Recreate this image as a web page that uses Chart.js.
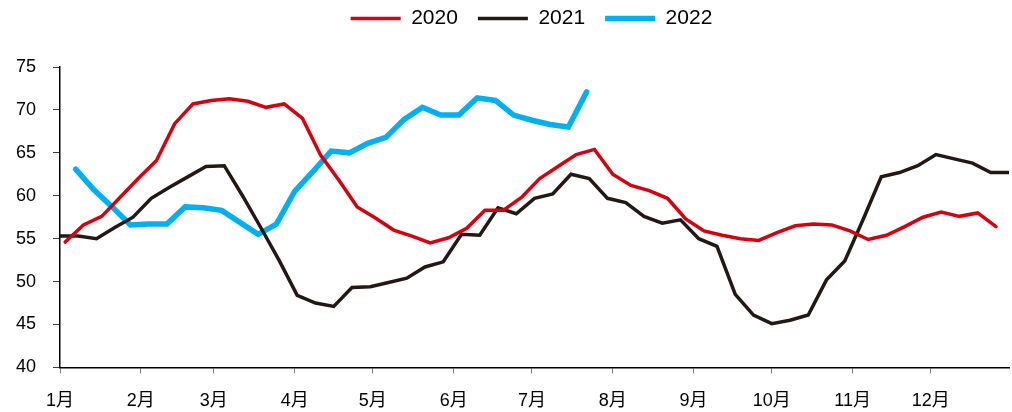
<!DOCTYPE html>
<html>
<head>
<meta charset="utf-8">
<script src="https://cdn.jsdelivr.net/npm/chart.js@4/dist/chart.umd.min.js"></script>
<style>
    body { margin: 0; background: #fff; }
    #wrap { width: 1012px; height: 412px; }
</style>
</head>
<body>
<div id="wrap"><canvas id="weeklyChart"></canvas></div>
<script>
// month labels and the day of year each month starts on
const monthLabels = ['1月', '2月', '3月', '4月', '5月', '6月', '7月', '8月', '9月', '10月', '11月', '12月'];
const monthStarts = [0, 31, 59, 90, 120, 151, 181, 212, 243, 273, 304, 334];

// weekly readings (Fridays), first reading day of year per series
const start2020 = 2;
const start2021 = 0;
const start2022 = 6;

const values2020 = [
    54.6, 56.6, 57.6, 59.8, 62.0, 64.1, 68.4, 70.7, 71.1, 71.3, 71.0, 70.3, 70.7,
    69.0, 64.7, 61.8, 58.7, 57.4, 56.0, 55.3, 54.5, 55.1, 56.2, 58.3, 58.3, 59.8,
    62.0, 63.4, 64.8, 65.4, 62.5, 61.2, 60.6, 59.7, 57.3, 55.9, 55.4, 55.0, 54.8,
    55.7, 56.5, 56.7, 56.6, 55.9, 54.9, 55.4, 56.4, 57.5, 58.1, 57.6, 58.0, 56.4
];
const values2021 = [
    55.3, 55.3, 55.0, 56.3, 57.5, 59.7, 61.0, 62.2, 63.4, 63.5, 60.0, 56.3, 52.5,
    48.4, 47.5, 47.1, 49.3, 49.4, 49.9, 50.4, 51.7, 52.3, 55.5, 55.4, 58.6, 57.9,
    59.7, 60.2, 62.5, 62.0, 59.7, 59.2, 57.6, 56.8, 57.2, 55.0, 54.1, 48.5, 46.1,
    45.1, 45.5, 46.1, 50.2, 52.4, 57.2, 62.2, 62.7, 63.5, 64.8, 64.3, 63.8, 62.7,
    62.7
];
const values2022 = [
    63.1, 60.7, 58.7, 56.6, 56.7, 56.7, 58.7, 58.6, 58.3, 56.9, 55.5, 56.7, 60.5,
    62.8, 65.2, 65.0, 66.1, 66.8, 68.9, 70.3, 69.4, 69.4, 71.4, 71.1, 69.4, 68.8,
    68.3, 68.0, 72.1
];

// y axis range
const yMin = 40;
const yMax = 75;
const yStep = 5;

// turn a weekly series into {x: day, y: value} points
function toPoints(values, startDay) {
    return values.map((v, i) => ({ x: startDay + i * 7, y: v }));
}

// nudge the legend so it sits over the plot like in the original
const legendShift = {
    id: 'legendShift',
    afterLayout(chart) {
        const l = chart.legend;
        l.left += 19;
        l.right += 19;
        l.top -= 28;
        l.bottom -= 28;
    }
};

function createWeeklyChart() {
    const ctx = document.getElementById('weeklyChart').getContext('2d');
    const font = "'Liberation Sans', Arial, 'Noto Sans CJK SC', sans-serif";

    new Chart(ctx, {
        type: 'line',
        data: {
            datasets: [
                {
                    label: '2020',
                    data: toPoints(values2020, start2020),
                    borderColor: '#d7000f',
                    backgroundColor: '#d7000f',
                    borderWidth: 3.5,
                    borderCapStyle: 'round',
                    pointRadius: 0,
                    tension: 0
                },
                {
                    label: '2021',
                    data: toPoints(values2021, start2021),
                    borderColor: '#231815',
                    backgroundColor: '#231815',
                    borderWidth: 3.5,
                    borderCapStyle: 'round',
                    pointRadius: 0,
                    tension: 0
                },
                {
                    label: '2022',
                    data: toPoints(values2022, start2022),
                    borderColor: '#00b0f0',
                    backgroundColor: '#00b0f0',
                    borderWidth: 5.5,
                    borderCapStyle: 'round',
                    pointRadius: 0,
                    tension: 0
                }
            ]
        },
        plugins: [legendShift],
        options: {
            responsive: true,
            maintainAspectRatio: false,
            animation: false,
            layout: {
                padding: { left: 16, right: 3, top: 16, bottom: 0 }
            },
            plugins: {
                legend: {
                    position: 'top',
                    labels: {
                        color: '#000',
                        font: { family: font, size: 21 },
                        usePointStyle: true,
                        pointStyle: 'line',
                        pointStyleWidth: 50,
                        padding: 20
                    }
                },
                tooltip: { enabled: false }
            },
            scales: {
                x: {
                    type: 'linear',
                    min: 0,
                    max: 364,
                    afterBuildTicks: (scale) => {
                        scale.ticks = monthStarts.map(v => ({ value: v }));
                    },
                    // fit() counts the tick padding twice, take one back off
                    afterFit: (scale) => { scale.height -= 17; },
                    ticks: {
                        autoSkip: false,
                        maxRotation: 0,
                        padding: 17,
                        color: '#000',
                        font: { family: font, size: 18 },
                        callback: (value) => monthLabels[monthStarts.indexOf(value)]
                    },
                    grid: {
                        drawOnChartArea: false,
                        drawTicks: true,
                        tickLength: 6,
                        color: '#808080'
                    },
                    border: { color: '#000', width: 1.5 }
                },
                y: {
                    min: yMin,
                    max: yMax,
                    afterFit: (scale) => { scale.width = 44; },
                    ticks: {
                        stepSize: yStep,
                        padding: 17,
                        color: '#000',
                        font: { family: font, size: 18 }
                    },
                    grid: {
                        drawOnChartArea: false,
                        drawTicks: true,
                        tickLength: 7,
                        color: '#404040'
                    },
                    border: { color: '#000', width: 1.5 }
                }
            }
        }
    });
}

createWeeklyChart();
</script>
</body>
</html>
